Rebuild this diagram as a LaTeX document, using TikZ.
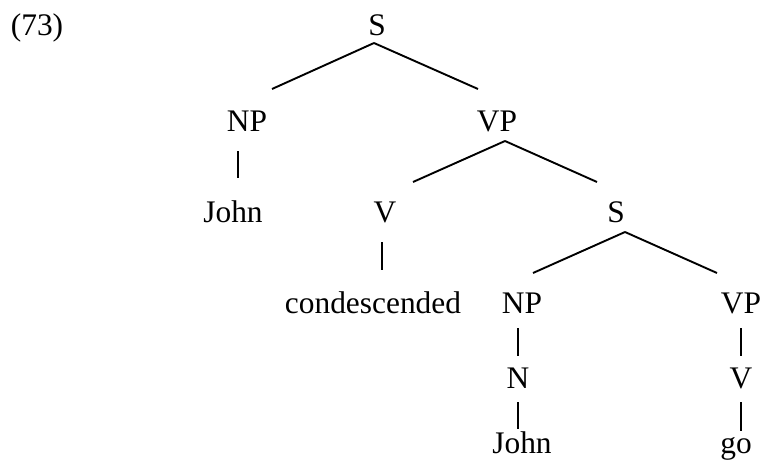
\documentclass[tikz,border=0pt]{standalone}
\usepackage{fontspec}
\setmainfont{Liberation Serif}
\usepackage{tikz}
\usetikzlibrary{calc}
\tikzset{
    label/.style={inner sep=0pt, anchor=base, font=\fontsize{15.7pt}{19pt}\selectfont},
    branch/.style={draw=black, line width=.95pt},
    bar/.style={draw=black, line width=.6pt},
}

\begin{document}
\begin{tikzpicture}[x=.5pt, y=.5pt]

\useasboundingbox (0,0) rectangle (761,-472);

		\node[label] (ex) at (37,-35) {(73)};
		\node[label] (s) at (377,-35) {S};
		\node[label] (np) at (247,-131) {NP};
		\node[label] (vp) at (497,-131) {VP};
		\node[label] (john) at (233,-222) {John};
		\node[label] (v) at (385,-222) {V};
		\node[label] (s2) at (616,-222) {S};
		\node[label] (cond) at (373,-313) {condescended};
		\node[label] (np2) at (522,-313) {NP};
		\node[label] (vp2) at (741,-313) {VP};
		\node[label] (n) at (518,-388) {N};
		\node[label] (v2) at (741,-388) {V};
		\node[label] (john2) at (522,-453) {John};
		\node[label] (go) at (736,-453) {go};

		%% S -> NP VP
		\draw[branch] ($(s.base)+(-3,-8)$) -- ($(np.base)+(25,42)$);
		\draw[branch] ($(s.base)+(-3,-8)$) -- ($(vp.base)+(-19,42)$);
		\draw[bar] ($(np.base)+(-9,-20)$) -- ($(john.base)+(5,44)$);

		%% VP -> V S
		\draw[branch] ($(vp.base)+(8,-10)$) -- ($(v.base)+(28,40)$);
		\draw[branch] ($(vp.base)+(8,-10)$) -- ($(s2.base)+(-19,40)$);
		\draw[bar] ($(v.base)+(-3,-20)$) -- ($(cond.base)+(9,43)$);

		%% embedded S
		\draw[branch] ($(s2.base)+(9,-10)$) -- ($(np2.base)+(11,40)$);
		\draw[branch] ($(s2.base)+(9,-10)$) -- ($(vp2.base)+(-24,40)$);
		\draw[bar] ($(np2.base)+(-4,-15)$) -- ($(n.base)+(0,32)$);
		\draw[bar] ($(n.base)+(0,-14)$) -- ($(john2.base)+(-4,24)$);
		\draw[bar] ($(vp2.base)+(0,-15)$) -- ($(v2.base)+(0,32)$);
		\draw[bar] ($(v2.base)+(0,-14)$) -- ($(go.base)+(5,22)$);

\end{tikzpicture}
\end{document}
